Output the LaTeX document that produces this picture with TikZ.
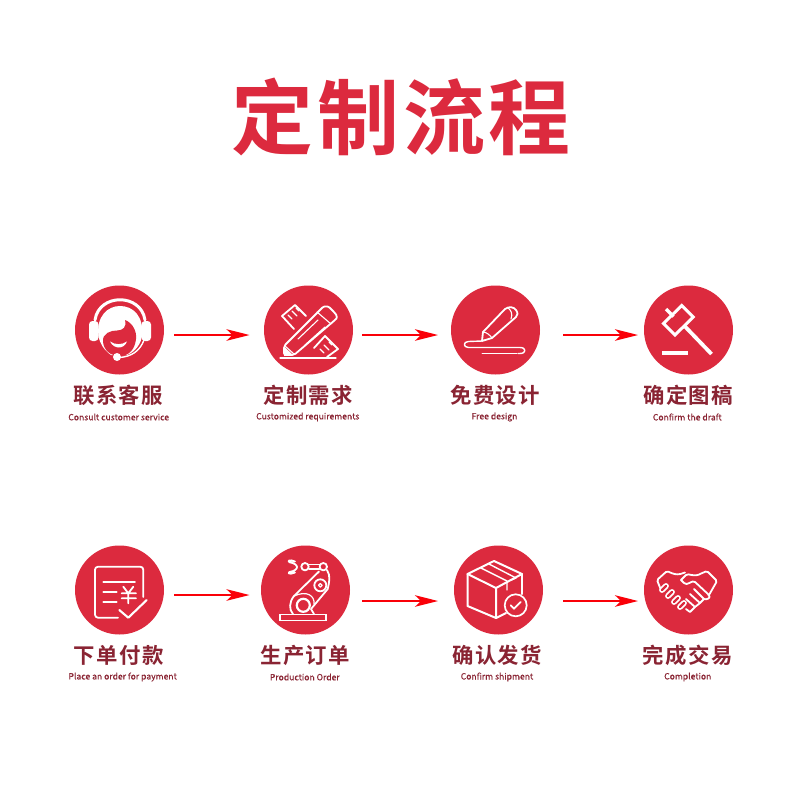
\documentclass[tikz,border=0pt]{standalone}
\usepackage{fontspec}
\usetikzlibrary{arrows.meta}
\setmainfont{Noto Sans CJK SC}
\newfontfamily\titlefont[LetterSpace=4.5]{Noto Sans CJK SC Bold}
\newfontfamily\labfont[LetterSpace=6]{Noto Sans CJK SC Bold}
\newfontfamily\enfont[FakeBold=0.35]{Noto Sans CJK SC}
\definecolor{brandred}{HTML}{DC2A3E}
\definecolor{labred}{HTML}{8A2433}
\definecolor{flowred}{HTML}{FA0008}
\tikzset{
  disc/.style={circle,fill=brandred,draw=none,minimum size=89pt,inner sep=0pt},
  cnlabel/.style={text=labred,inner sep=0pt,font=\labfont\fontsize{21.4}{22}\selectfont},
  enlabel/.style={text=labred,inner sep=0pt,font=\enfont\fontsize{8.6}{9}\selectfont},
  flow/.style={draw=flowred,line width=1.6pt,-{Stealth[length=23pt,width=11.5pt,inset=6pt]}},
  wl/.style={draw=white,line cap=round,line join=round,line width=1.8pt},
  wt/.style={draw=white,line cap=round,line join=round,line width=1.1pt},
  wf/.style={fill=white,draw=none},
}
\begin{document}
\begin{tikzpicture}[x=1pt,y=-1pt]
\useasboundingbox[fill=white] (0,0) rectangle (800,800);
\node[text=brandred,inner sep=0pt,font=\titlefont\fontsize{82}{82}\selectfont] (title) at (401.5,116.5) {定制流程};
% discs
\node[disc] (d1) at (119.5,330) {};
\node[disc] (d2) at (308.5,330) {};
\node[disc] (d3) at (495.5,330) {};
\node[disc] (d4) at (688.5,330) {};
\node[disc] (d5) at (119.5,590) {};
\node[disc] (d6) at (305.5,590) {};
\node[disc] (d7) at (498.5,590) {};
\node[disc] (d8) at (688.5,590) {};
% labels
\node[cnlabel] (c1) at (118.3,395) {联系客服};
\node[cnlabel] (c2) at (308.3,395) {定制需求};
\node[cnlabel] (c3) at (495.3,395) {免费设计};
\node[cnlabel] (c4) at (688.3,395) {确定图稿};
\node[cnlabel] (c5) at (118.7,655) {下单付款};
\node[cnlabel] (c6) at (305.3,655) {生产订单};
\node[cnlabel] (c7) at (497.3,655) {确认发货};
\node[cnlabel] (c8) at (687.7,655) {完成交易};
\node[enlabel] (e1) at (118.7,417) {Consult customer service};
\node[enlabel] (e2) at (307.8,417) {Customized requirements};
\node[enlabel] (e3) at (494.5,417) {Free design};
\node[enlabel] (e4) at (687.3,417) {Confirm the draft};
\node[enlabel] (e5) at (122.7,677) {Place an order for payment};
\node[enlabel] (e6) at (304.8,677) {Production Order};
\node[enlabel] (e7) at (497,677) {Confirm shipment};
\node[enlabel] (e8) at (687.8,677) {Completion};
% connectors
\coordinate (a1s) at (174,335); \coordinate (a1e) at (249.5,335);
\coordinate (a2s) at (362,335); \coordinate (a2e) at (438,335);
\coordinate (a3s) at (563,335); \coordinate (a3e) at (638,335);
\coordinate (a5s) at (174,595); \coordinate (a5e) at (249.5,595);
\coordinate (a6s) at (362,601); \coordinate (a6e) at (438,601);
\coordinate (a7s) at (563,601); \coordinate (a7e) at (638,601);
\draw[flow] (a1s) -- (a1e);
\draw[flow] (a2s) -- (a2e);
\draw[flow] (a3s) -- (a3e);
\draw[flow] (a5s) -- (a5e);
\draw[flow] (a6s) -- (a6e);
\draw[flow] (a7s) -- (a7e);
% icon 1 headset
\begin{scope}[shift={(75,286)}]
  \draw[wl,line width=3pt] (20,34) .. controls (24,7) and (66,7) .. (70,34);
  \fill[wf,rounded corners=3.5pt] (14,35) rectangle (23.5,55);
  \fill[wf,rounded corners=3.5pt] (66.5,35) rectangle (76,55);
  \fill[wf] (23.5,50) .. controls (21,30) and (33,20) .. (45,20) .. controls (58,20) and (69,30) .. (67,50) .. controls (66,58) and (60,66) .. (52,69) -- (36,69) .. controls (29,64) and (25,58) .. (23.5,50) -- cycle;
  \fill[brandred] (28,56) .. controls (27,47) and (36,44.5) .. (42,44.5) .. controls (48,44.5) and (52,41) .. (50,34) .. controls (58,37) and (62,46) .. (61,53) .. controls (60,63) and (54,70) .. (45,70) .. controls (35,70) and (29,64) .. (28,56) -- cycle;
  \fill[wf] (35,55.5) .. controls (40,59) and (47,59) .. (52,55.5) .. controls (49,63.5) and (39,63.5) .. (35,55.5) -- cycle;
  \draw[wl,line width=1.4pt] (44,71.5) .. controls (56,71) and (65,65) .. (69,54);
  \fill[wf] (42,71) circle (4);
\end{scope}
% icon 2 pencil and ruler
\begin{scope}[shift={(264,286)}]
  \draw[wl] (30,43) -- (18,30) -- (31,19) -- (42,30);
  \draw[wt] (24,29) -- (28,33) (28,25) -- (33,30) (32,22) -- (35,25);
  \draw[wl] (50,62) -- (61,50) -- (74,63) -- (63,71);
  \draw[wt] (56,63) -- (60,67) (60,59) -- (65,64) (65,56) -- (68,59);
  \draw[wl,rounded corners=2pt,fill=brandred] (20,69) -- (20,60) -- (57,23) .. controls (60,20) and (64,20) .. (67,23) -- (71,27) .. controls (73,30) and (73,32) .. (71,34) -- (30,69) -- cycle;
  \draw[wt] (53,26) -- (67,38);
  \draw[wt] (34,53) -- (54,34) (41,59) -- (61,41);
  \draw[wt] (21,60) -- (30,68);
  \fill[wf] (20,70) -- (20.5,61) -- (28.5,68.5) -- cycle;
  \draw[wt,line width=1.2pt] (16,72) -- (72,72);
\end{scope}
% icon 3 pen
\begin{scope}[shift={(451,286)}]
  \draw[wl] (32,46) -- (54,23) .. controls (58,20) and (63,21) .. (65,24) .. controls (67,27) and (67,29) .. (65,31) -- (41,52);
  \draw[wl] (32,46) -- (31,55) -- (41,52);
  \draw[wt] (32,46) .. controls (35,46) and (39,49) .. (41,52);
  \draw[wt] (57,22) .. controls (60,24) and (62,28) .. (60,33);
  \draw[wl,line width=1.4pt] (31,55) -- (17.5,55.5) .. controls (12,55.5) and (12,61.5) .. (17.5,61.5) -- (69,61.5) .. controls (75.5,61.5) and (75.5,67.5) .. (69,67.5) -- (67,67.5);
  \draw[wt,line width=0.8pt] (31,67.5) -- (66,67.5);
\end{scope}
% icon 4 gavel
\begin{scope}[shift={(644,286)}]
  \draw[wl,line width=3pt,line cap=butt,line join=miter] (19.5,37.5) -- (37.7,19.5) -- (49.3,31) -- (31,49) -- cycle;
  \draw[wl,line width=3.2pt,line cap=butt] (22,23) -- (29.5,30.5);
  \draw[wl,line width=3.8pt,line cap=butt] (41,40.5) -- (67.5,68);
  \fill[wf] (18.3,65) rectangle (43.7,69.4);
\end{scope}
% icon 5 payment
\begin{scope}[shift={(75,546)}]
  \draw[wl,rounded corners=3pt] (68.3,51) -- (68.3,20.7) -- (20,20.7) -- (20,71.7) -- (43,71.7);
  \draw[wl] (28.3,35.7) -- (60,35.7) (28.3,45.7) -- (41.7,45.7) (28.3,55.7) -- (41.7,55.7);
  \draw[wl] (48.3,40.7) -- (53.3,47.3) -- (58.3,40.7) (46.7,47.3) -- (61,47.3) (46.7,52.3) -- (61,52.3) (53.3,47.3) -- (53.3,57.3);
  \draw[wl,line width=2.1pt] (44.3,64) -- (53.3,71.7) -- (71.7,54);
\end{scope}
% icon 6 robot
\begin{scope}[shift={(261,546)}]
  \draw[wl,line join=miter] (19.3,68.5) rectangle (65,74.5);
  \draw[wl] (34,15.5) .. controls (28,13) and (26.5,15) .. (28.5,16.2) .. controls (38,18) and (39,24) .. (28.5,26) .. controls (26.5,27) and (28,29) .. (34,26.5);
  \draw[wl] (44,20.7) circle (3.7);
  \draw[wl,line width=1.3pt] (48,18.5) -- (58.5,18.5) (48,23) -- (58.5,23);
  \draw[wl] (62.3,20.7) circle (3.7);
  \draw[wl] (58,25.5) -- (33,50) .. controls (28,56) and (28,64) .. (32,68);
  \draw[wl] (66,24) .. controls (70,30) and (68,37) .. (66.7,43) -- (50,63) -- (53,68);
  \draw[wl] (59.3,39.3) circle (6);
  \draw[wl,line width=1.2pt] (59.3,39.3) circle (1.8);
  \draw[wl,line width=2.2pt] (42.3,59.3) circle (6.5);
  \draw[wl,line width=1.2pt] (33,50) .. controls (46,44) and (54,50) .. (53,58);
\end{scope}
% icon 7 box
\begin{scope}[shift={(454,546)}]
  \draw[wl,line width=2pt] (13.5,28) -- (40,15) -- (68,28) -- (42,42) -- cycle;
  \draw[wl,line width=2pt] (13.5,28) -- (13.5,60) -- (42,72) -- (42,42);
  \draw[wl,line width=2pt] (68,28) -- (68,48);
  \draw[wl,line width=2pt] (42,72) -- (52,67);
  \draw[wl,line width=1.4pt] (27,22) -- (53,35) -- (53,44) (35,18) -- (62,32) -- (57,34);
  \draw[wl,line width=1.7pt,fill=brandred] (61.7,59.3) circle (11);
  \draw[wl,line width=1.8pt] (56.7,59.3) -- (60,62.7) -- (66.7,56);
\end{scope}
% icon 8 handshake
\begin{scope}[shift={(644,546)}]
  \draw[wl,rounded corners=1.5pt] (17,44) -- (13,34) -- (23,25) .. controls (29,28) and (33,29) .. (38,27.5) -- (41,26.5);
  \draw[wl,rounded corners=1.5pt] (37,34) -- (43,28) .. controls (47,29) and (52,30) .. (56,28) -- (63,25) -- (73,35) -- (65,49);
  \draw[wl,rounded corners=1.5pt] (37,34) -- (41,38) .. controls (44,38) and (47,36) .. (50,35) -- (65,49) .. controls (66,52) and (63,54) .. (60,53);
  \foreach \a/\b in {18/44,24/50,30/56,36/61}{
    \draw[wl,line width=5.8pt] (\a,\b) -- ({\a+4},{\b-4});
    \draw[draw=brandred,line cap=round,line width=2.4pt] (\a,\b) -- ({\a+4},{\b-4});
  }
  \draw[wl] (50,43) -- (60,53) -- (56,57) (46,48) -- (56,57) -- (51,61) (42,53) -- (51,61) -- (46,66) -- (42,63);
\end{scope}
\end{tikzpicture}
\end{document}
